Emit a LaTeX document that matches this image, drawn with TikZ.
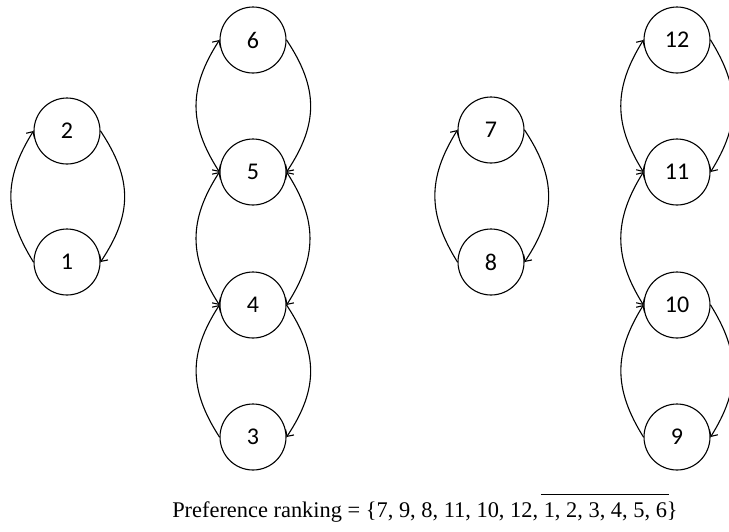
\documentclass[tikz,border=0pt]{standalone}
\usepackage{fontspec}
\setmainfont{Liberation Serif}
\newfontfamily\nodefont{Carlito}
\usetikzlibrary{arrows.meta}
\newsavebox\olbox
\newcommand\myover[1]{\sbox\olbox{#1}\hspace{-3pt}\rlap{\rule[1.0em]{\dimexpr\wd\olbox+5pt\relax}{0.9pt}}\hspace{3pt}\usebox\olbox}
\begin{document}
\begin{tikzpicture}[x=1pt,y=-1pt,
  vtx/.style={draw,circle,line width=1.1pt,minimum size=66pt,inner sep=0pt,font=\nodefont\fontsize{24}{24}\selectfont},
  arc/.style={line width=1.1pt,draw},
  tip/.style={arrows={-{Straight Barb[length=5pt,width=10pt]}}},
  both/.style={arrows={{Straight Barb[length=5pt,width=10pt]}-{Straight Barb[length=5pt,width=10pt]}}}]
\useasboundingbox (0,0) rectangle (729,531);
% column 1
\node[vtx] (n2) at (67,131) {2};
\node[vtx] (n1) at (67,262) {1};
% column 2
\node[vtx] (n6) at (253,40) {6};
\node[vtx] (n5) at (253,172) {5};
\node[vtx] (n4) at (253,305) {4};
\node[vtx] (n3) at (253,437) {3};
% column 3
\node[vtx] (n7) at (491,130) {7};
\node[vtx] (n8) at (491,262) {8};
% column 4
\node[vtx] (n12) at (677,40) {12};
\node[vtx] (n11) at (677,172) {11};
\node[vtx] (n10) at (677,305) {10};
\node[vtx] (n9) at (677,437) {9};
% pair 2-1
\draw[arc,tip] (n1.west) .. controls +(-30,-48) and +(-30,48) .. (n2.west);
\draw[arc,tip] (n2.east) .. controls +(32,48) and +(32,-48) .. (n1.east);
% pair 7-8
\draw[arc,tip] (n8.west) .. controls +(-30,-48) and +(-30,48) .. (n7.west);
\draw[arc,tip] (n7.east) .. controls +(32,48) and +(32,-48) .. (n8.east);
% column 2
\draw[arc,both] (n5.west) .. controls +(-31,-48) and +(-31,48) .. (n6.west);
\draw[arc,tip] (n6.east) .. controls +(32,48) and +(32,-48) .. (n5.east);
\draw[arc,both] (n5.west) .. controls +(-31,48) and +(-31,-48) .. (n4.west);
\draw[arc,both] (n5.east) .. controls +(31,48) and +(31,-48) .. (n4.east);
\draw[arc,tip] (n3.west) .. controls +(-31,-48) and +(-31,48) .. (n4.west);
\draw[arc,tip] (n4.east) .. controls +(32,48) and +(32,-48) .. (n3.east);
% column 4
\draw[arc,both] (n11.west) .. controls +(-30,-48) and +(-30,48) .. (n12.west);
\draw[arc,tip] (n12.east) .. controls +(30,48) and +(30,-48) .. (n11.east);
\draw[arc,both] (n11.west) .. controls +(-30,48) and +(-30,-48) .. (n10.west);
\draw[arc,tip] (n9.west) .. controls +(-30,-48) and +(-30,48) .. (n10.west);
\draw[arc,tip] (n10.east) .. controls +(30,48) and +(30,-48) .. (n9.east);
% caption
\node[anchor=base,font=\fontsize{22.4}{24}\selectfont,inner sep=0pt] (cap) at (425,517)
  {Preference ranking = \{7, 9, 8, 11, 10, 12, \myover{1, 2, 3, 4, 5, 6}\}};
\end{tikzpicture}
\end{document}
